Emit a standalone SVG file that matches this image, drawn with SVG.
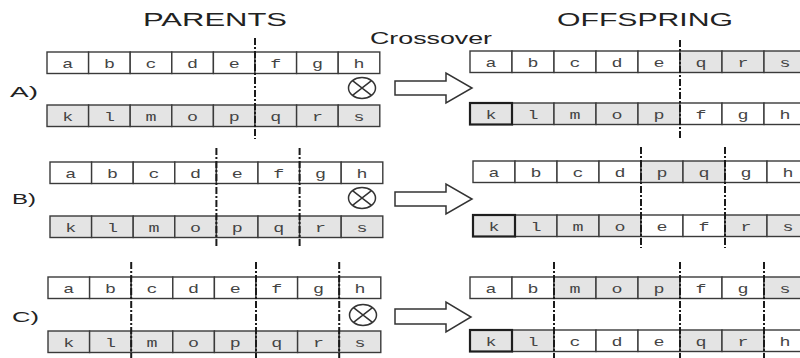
<svg xmlns="http://www.w3.org/2000/svg" width="800" height="358" viewBox="0 0 800 358">
  <style>
    .title { font-family: "Liberation Sans", Arial, sans-serif; fill: #222; }
    .lbl { font-family: "Liberation Sans", Arial, sans-serif; font-size: 15px; fill: #222; }
    .c { fill: #fff; stroke: #3a3a3a; stroke-width: 1.4; }
    .g { fill: #e4e4e4; }
    .k { stroke: #1e1e1e; stroke-width: 2.2; }
    .t { font-family: "Liberation Mono", "Courier New", monospace; font-size: 13px; fill: #444; text-anchor: middle; }
    .cut { stroke: #1a1a1a; stroke-width: 2; stroke-dasharray: 7 2 2 2; fill: none; }
    .arrow { fill: #fff; stroke: #333; stroke-width: 1.5; stroke-linejoin: miter; }
    .op { fill: #fff; stroke: #333; stroke-width: 1.5; }
  </style>
  <rect width="800" height="358" fill="#fff"/>

  <!-- headings -->
  <g id="headings">
    <text class="title" x="143" y="26" font-size="18" textLength="144" lengthAdjust="spacingAndGlyphs">PARENTS</text>
    <text class="title" x="557" y="26" font-size="18" textLength="176" lengthAdjust="spacingAndGlyphs">OFFSPRING</text>
    <text class="title" x="370" y="44" font-size="16" textLength="122" lengthAdjust="spacingAndGlyphs">Crossover</text>
  </g>

  <!-- case labels -->
  <g id="labels">
    <text class="lbl" x="10" y="97" textLength="28" lengthAdjust="spacingAndGlyphs">A)</text>
    <text class="lbl" x="12" y="204" textLength="24" lengthAdjust="spacingAndGlyphs">B)</text>
    <text class="lbl" x="12" y="322" textLength="27" lengthAdjust="spacingAndGlyphs">C)</text>
  </g>

  <!-- A: one-point crossover, parents -->
  <g id="parentsA">
    <g>
      <rect class="c" x="47" y="52" width="41.6" height="21.5"/><rect class="c" x="88.6" y="52" width="41.6" height="21.5"/>
      <rect class="c" x="130.2" y="52" width="41.6" height="21.5"/><rect class="c" x="171.8" y="52" width="41.6" height="21.5"/>
      <rect class="c" x="213.4" y="52" width="41.6" height="21.5"/><rect class="c" x="255" y="52" width="41.6" height="21.5"/>
      <rect class="c" x="296.6" y="52" width="41.6" height="21.5"/><rect class="c" x="338.2" y="52" width="41.6" height="21.5"/>
      <text class="t" x="67.8" y="67.5" textLength="11" lengthAdjust="spacingAndGlyphs">a</text>
      <text class="t" x="109.4" y="67.5" textLength="11" lengthAdjust="spacingAndGlyphs">b</text>
      <text class="t" x="151" y="67.5" textLength="11" lengthAdjust="spacingAndGlyphs">c</text>
      <text class="t" x="192.6" y="67.5" textLength="11" lengthAdjust="spacingAndGlyphs">d</text>
      <text class="t" x="234.2" y="67.5" textLength="11" lengthAdjust="spacingAndGlyphs">e</text>
      <text class="t" x="275.8" y="67.5" textLength="11" lengthAdjust="spacingAndGlyphs">f</text>
      <text class="t" x="317.4" y="67.5" textLength="11" lengthAdjust="spacingAndGlyphs">g</text>
      <text class="t" x="359" y="67.5" textLength="11" lengthAdjust="spacingAndGlyphs">h</text>
    </g>
    <g>
      <rect class="c g" x="47" y="105" width="41.6" height="21.5"/><rect class="c g" x="88.6" y="105" width="41.6" height="21.5"/>
      <rect class="c g" x="130.2" y="105" width="41.6" height="21.5"/><rect class="c g" x="171.8" y="105" width="41.6" height="21.5"/>
      <rect class="c g" x="213.4" y="105" width="41.6" height="21.5"/><rect class="c g" x="255" y="105" width="41.6" height="21.5"/>
      <rect class="c g" x="296.6" y="105" width="41.6" height="21.5"/><rect class="c g" x="338.2" y="105" width="41.6" height="21.5"/>
      <text class="t" x="67.8" y="120.5" textLength="11" lengthAdjust="spacingAndGlyphs">k</text>
      <text class="t" x="109.4" y="120.5" textLength="11" lengthAdjust="spacingAndGlyphs">l</text>
      <text class="t" x="151" y="120.5" textLength="11" lengthAdjust="spacingAndGlyphs">m</text>
      <text class="t" x="192.6" y="120.5" textLength="11" lengthAdjust="spacingAndGlyphs">o</text>
      <text class="t" x="234.2" y="120.5" textLength="11" lengthAdjust="spacingAndGlyphs">p</text>
      <text class="t" x="275.8" y="120.5" textLength="11" lengthAdjust="spacingAndGlyphs">q</text>
      <text class="t" x="317.4" y="120.5" textLength="11" lengthAdjust="spacingAndGlyphs">r</text>
      <text class="t" x="359" y="120.5" textLength="11" lengthAdjust="spacingAndGlyphs">s</text>
    </g>
    <line class="cut" x1="255" y1="38" x2="255" y2="139"/>
  </g>

  <!-- A: offspring -->
  <g id="offspringA">
    <g>
      <rect class="c" x="470" y="51" width="42" height="21.5"/><rect class="c" x="512" y="51" width="42" height="21.5"/>
      <rect class="c" x="554" y="51" width="42" height="21.5"/><rect class="c" x="596" y="51" width="42" height="21.5"/>
      <rect class="c" x="638" y="51" width="42" height="21.5"/><rect class="c g" x="680" y="51" width="42" height="21.5"/>
      <rect class="c g" x="722" y="51" width="42" height="21.5"/><rect class="c g" x="764" y="51" width="42" height="21.5"/>
      <text class="t" x="491" y="66.5" textLength="11" lengthAdjust="spacingAndGlyphs">a</text>
      <text class="t" x="533" y="66.5" textLength="11" lengthAdjust="spacingAndGlyphs">b</text>
      <text class="t" x="575" y="66.5" textLength="11" lengthAdjust="spacingAndGlyphs">c</text>
      <text class="t" x="617" y="66.5" textLength="11" lengthAdjust="spacingAndGlyphs">d</text>
      <text class="t" x="659" y="66.5" textLength="11" lengthAdjust="spacingAndGlyphs">e</text>
      <text class="t" x="701" y="66.5" textLength="11" lengthAdjust="spacingAndGlyphs">q</text>
      <text class="t" x="743" y="66.5" textLength="11" lengthAdjust="spacingAndGlyphs">r</text>
      <text class="t" x="785" y="66.5" textLength="11" lengthAdjust="spacingAndGlyphs">s</text>
    </g>
    <g>
      <rect class="c g" x="512" y="103" width="42" height="21.5"/>
      <rect class="c g" x="554" y="103" width="42" height="21.5"/><rect class="c g" x="596" y="103" width="42" height="21.5"/>
      <rect class="c g" x="638" y="103" width="42" height="21.5"/><rect class="c" x="680" y="103" width="42" height="21.5"/>
      <rect class="c" x="722" y="103" width="42" height="21.5"/><rect class="c" x="764" y="103" width="42" height="21.5"/>
      <rect class="c g k" x="470" y="103" width="42" height="21.5"/>
      <text class="t" x="491" y="118.5" textLength="11" lengthAdjust="spacingAndGlyphs">k</text>
      <text class="t" x="533" y="118.5" textLength="11" lengthAdjust="spacingAndGlyphs">l</text>
      <text class="t" x="575" y="118.5" textLength="11" lengthAdjust="spacingAndGlyphs">m</text>
      <text class="t" x="617" y="118.5" textLength="11" lengthAdjust="spacingAndGlyphs">o</text>
      <text class="t" x="659" y="118.5" textLength="11" lengthAdjust="spacingAndGlyphs">p</text>
      <text class="t" x="701" y="118.5" textLength="11" lengthAdjust="spacingAndGlyphs">f</text>
      <text class="t" x="743" y="118.5" textLength="11" lengthAdjust="spacingAndGlyphs">g</text>
      <text class="t" x="785" y="118.5" textLength="11" lengthAdjust="spacingAndGlyphs">h</text>
    </g>
    <line class="cut" x1="680" y1="40" x2="680" y2="139"/>
  </g>

  <!-- B: two-point crossover, parents -->
  <g id="parentsB">
    <g>
      <rect class="c" x="50" y="162" width="41.6" height="21.5"/><rect class="c" x="91.6" y="162" width="41.6" height="21.5"/>
      <rect class="c" x="133.2" y="162" width="41.6" height="21.5"/><rect class="c" x="174.8" y="162" width="41.6" height="21.5"/>
      <rect class="c" x="216.4" y="162" width="41.6" height="21.5"/><rect class="c" x="258" y="162" width="41.6" height="21.5"/>
      <rect class="c" x="299.6" y="162" width="41.6" height="21.5"/><rect class="c" x="341.2" y="162" width="41.6" height="21.5"/>
      <text class="t" x="70.8" y="177.5" textLength="11" lengthAdjust="spacingAndGlyphs">a</text>
      <text class="t" x="112.4" y="177.5" textLength="11" lengthAdjust="spacingAndGlyphs">b</text>
      <text class="t" x="154" y="177.5" textLength="11" lengthAdjust="spacingAndGlyphs">c</text>
      <text class="t" x="195.6" y="177.5" textLength="11" lengthAdjust="spacingAndGlyphs">d</text>
      <text class="t" x="237.2" y="177.5" textLength="11" lengthAdjust="spacingAndGlyphs">e</text>
      <text class="t" x="278.8" y="177.5" textLength="11" lengthAdjust="spacingAndGlyphs">f</text>
      <text class="t" x="320.4" y="177.5" textLength="11" lengthAdjust="spacingAndGlyphs">g</text>
      <text class="t" x="362" y="177.5" textLength="11" lengthAdjust="spacingAndGlyphs">h</text>
    </g>
    <g>
      <rect class="c g" x="50" y="216" width="41.6" height="21.5"/><rect class="c g" x="91.6" y="216" width="41.6" height="21.5"/>
      <rect class="c g" x="133.2" y="216" width="41.6" height="21.5"/><rect class="c g" x="174.8" y="216" width="41.6" height="21.5"/>
      <rect class="c g" x="216.4" y="216" width="41.6" height="21.5"/><rect class="c g" x="258" y="216" width="41.6" height="21.5"/>
      <rect class="c g" x="299.6" y="216" width="41.6" height="21.5"/><rect class="c g" x="341.2" y="216" width="41.6" height="21.5"/>
      <text class="t" x="70.8" y="231.5" textLength="11" lengthAdjust="spacingAndGlyphs">k</text>
      <text class="t" x="112.4" y="231.5" textLength="11" lengthAdjust="spacingAndGlyphs">l</text>
      <text class="t" x="154" y="231.5" textLength="11" lengthAdjust="spacingAndGlyphs">m</text>
      <text class="t" x="195.6" y="231.5" textLength="11" lengthAdjust="spacingAndGlyphs">o</text>
      <text class="t" x="237.2" y="231.5" textLength="11" lengthAdjust="spacingAndGlyphs">p</text>
      <text class="t" x="278.8" y="231.5" textLength="11" lengthAdjust="spacingAndGlyphs">q</text>
      <text class="t" x="320.4" y="231.5" textLength="11" lengthAdjust="spacingAndGlyphs">r</text>
      <text class="t" x="362" y="231.5" textLength="11" lengthAdjust="spacingAndGlyphs">s</text>
    </g>
    <line class="cut" x1="216.4" y1="148" x2="216.4" y2="248"/>
    <line class="cut" x1="299.6" y1="148" x2="299.6" y2="248"/>
  </g>

  <!-- B: offspring -->
  <g id="offspringB">
    <g>
      <rect class="c" x="473" y="161" width="42" height="21.5"/><rect class="c" x="515" y="161" width="42" height="21.5"/>
      <rect class="c" x="557" y="161" width="42" height="21.5"/><rect class="c" x="599" y="161" width="42" height="21.5"/>
      <rect class="c g" x="641" y="161" width="42" height="21.5"/><rect class="c g" x="683" y="161" width="42" height="21.5"/>
      <rect class="c" x="725" y="161" width="42" height="21.5"/><rect class="c" x="767" y="161" width="42" height="21.5"/>
      <text class="t" x="494" y="176.5" textLength="11" lengthAdjust="spacingAndGlyphs">a</text>
      <text class="t" x="536" y="176.5" textLength="11" lengthAdjust="spacingAndGlyphs">b</text>
      <text class="t" x="578" y="176.5" textLength="11" lengthAdjust="spacingAndGlyphs">c</text>
      <text class="t" x="620" y="176.5" textLength="11" lengthAdjust="spacingAndGlyphs">d</text>
      <text class="t" x="662" y="176.5" textLength="11" lengthAdjust="spacingAndGlyphs">p</text>
      <text class="t" x="704" y="176.5" textLength="11" lengthAdjust="spacingAndGlyphs">q</text>
      <text class="t" x="746" y="176.5" textLength="11" lengthAdjust="spacingAndGlyphs">g</text>
      <text class="t" x="788" y="176.5" textLength="11" lengthAdjust="spacingAndGlyphs">h</text>
    </g>
    <g>
      <rect class="c g" x="515" y="215" width="42" height="21.5"/>
      <rect class="c g" x="557" y="215" width="42" height="21.5"/><rect class="c g" x="599" y="215" width="42" height="21.5"/>
      <rect class="c" x="641" y="215" width="42" height="21.5"/><rect class="c" x="683" y="215" width="42" height="21.5"/>
      <rect class="c g" x="725" y="215" width="42" height="21.5"/><rect class="c g" x="767" y="215" width="42" height="21.5"/>
      <rect class="c g k" x="473" y="215" width="42" height="21.5"/>
      <text class="t" x="494" y="230.5" textLength="11" lengthAdjust="spacingAndGlyphs">k</text>
      <text class="t" x="536" y="230.5" textLength="11" lengthAdjust="spacingAndGlyphs">l</text>
      <text class="t" x="578" y="230.5" textLength="11" lengthAdjust="spacingAndGlyphs">m</text>
      <text class="t" x="620" y="230.5" textLength="11" lengthAdjust="spacingAndGlyphs">o</text>
      <text class="t" x="662" y="230.5" textLength="11" lengthAdjust="spacingAndGlyphs">e</text>
      <text class="t" x="704" y="230.5" textLength="11" lengthAdjust="spacingAndGlyphs">f</text>
      <text class="t" x="746" y="230.5" textLength="11" lengthAdjust="spacingAndGlyphs">r</text>
      <text class="t" x="788" y="230.5" textLength="11" lengthAdjust="spacingAndGlyphs">s</text>
    </g>
    <line class="cut" x1="641" y1="147" x2="641" y2="248"/>
    <line class="cut" x1="725" y1="147" x2="725" y2="248"/>
  </g>

  <!-- C: multi-point crossover, parents -->
  <g id="parentsC">
    <g>
      <rect class="c" x="48" y="277" width="41.6" height="21.5"/><rect class="c" x="89.6" y="277" width="41.6" height="21.5"/>
      <rect class="c" x="131.2" y="277" width="41.6" height="21.5"/><rect class="c" x="172.8" y="277" width="41.6" height="21.5"/>
      <rect class="c" x="214.4" y="277" width="41.6" height="21.5"/><rect class="c" x="256" y="277" width="41.6" height="21.5"/>
      <rect class="c" x="297.6" y="277" width="41.6" height="21.5"/><rect class="c" x="339.2" y="277" width="41.6" height="21.5"/>
      <text class="t" x="68.8" y="292.5" textLength="11" lengthAdjust="spacingAndGlyphs">a</text>
      <text class="t" x="110.4" y="292.5" textLength="11" lengthAdjust="spacingAndGlyphs">b</text>
      <text class="t" x="152" y="292.5" textLength="11" lengthAdjust="spacingAndGlyphs">c</text>
      <text class="t" x="193.6" y="292.5" textLength="11" lengthAdjust="spacingAndGlyphs">d</text>
      <text class="t" x="235.2" y="292.5" textLength="11" lengthAdjust="spacingAndGlyphs">e</text>
      <text class="t" x="276.8" y="292.5" textLength="11" lengthAdjust="spacingAndGlyphs">f</text>
      <text class="t" x="318.4" y="292.5" textLength="11" lengthAdjust="spacingAndGlyphs">g</text>
      <text class="t" x="360" y="292.5" textLength="11" lengthAdjust="spacingAndGlyphs">h</text>
    </g>
    <g>
      <rect class="c g" x="48" y="331" width="41.6" height="21.5"/><rect class="c g" x="89.6" y="331" width="41.6" height="21.5"/>
      <rect class="c g" x="131.2" y="331" width="41.6" height="21.5"/><rect class="c g" x="172.8" y="331" width="41.6" height="21.5"/>
      <rect class="c g" x="214.4" y="331" width="41.6" height="21.5"/><rect class="c g" x="256" y="331" width="41.6" height="21.5"/>
      <rect class="c g" x="297.6" y="331" width="41.6" height="21.5"/><rect class="c g" x="339.2" y="331" width="41.6" height="21.5"/>
      <text class="t" x="68.8" y="346.5" textLength="11" lengthAdjust="spacingAndGlyphs">k</text>
      <text class="t" x="110.4" y="346.5" textLength="11" lengthAdjust="spacingAndGlyphs">l</text>
      <text class="t" x="152" y="346.5" textLength="11" lengthAdjust="spacingAndGlyphs">m</text>
      <text class="t" x="193.6" y="346.5" textLength="11" lengthAdjust="spacingAndGlyphs">o</text>
      <text class="t" x="235.2" y="346.5" textLength="11" lengthAdjust="spacingAndGlyphs">p</text>
      <text class="t" x="276.8" y="346.5" textLength="11" lengthAdjust="spacingAndGlyphs">q</text>
      <text class="t" x="318.4" y="346.5" textLength="11" lengthAdjust="spacingAndGlyphs">r</text>
      <text class="t" x="360" y="346.5" textLength="11" lengthAdjust="spacingAndGlyphs">s</text>
    </g>
    <line class="cut" x1="131.2" y1="262" x2="131.2" y2="358"/>
    <line class="cut" x1="256" y1="262" x2="256" y2="358"/>
    <line class="cut" x1="339.2" y1="262" x2="339.2" y2="358"/>
  </g>

  <!-- C: offspring -->
  <g id="offspringC">
    <g>
      <rect class="c" x="470" y="277" width="42" height="21.5"/><rect class="c" x="512" y="277" width="42" height="21.5"/>
      <rect class="c g" x="554" y="277" width="42" height="21.5"/><rect class="c g" x="596" y="277" width="42" height="21.5"/>
      <rect class="c g" x="638" y="277" width="42" height="21.5"/><rect class="c" x="680" y="277" width="42" height="21.5"/>
      <rect class="c" x="722" y="277" width="42" height="21.5"/><rect class="c g" x="764" y="277" width="42" height="21.5"/>
      <text class="t" x="491" y="292.5" textLength="11" lengthAdjust="spacingAndGlyphs">a</text>
      <text class="t" x="533" y="292.5" textLength="11" lengthAdjust="spacingAndGlyphs">b</text>
      <text class="t" x="575" y="292.5" textLength="11" lengthAdjust="spacingAndGlyphs">m</text>
      <text class="t" x="617" y="292.5" textLength="11" lengthAdjust="spacingAndGlyphs">o</text>
      <text class="t" x="659" y="292.5" textLength="11" lengthAdjust="spacingAndGlyphs">p</text>
      <text class="t" x="701" y="292.5" textLength="11" lengthAdjust="spacingAndGlyphs">f</text>
      <text class="t" x="743" y="292.5" textLength="11" lengthAdjust="spacingAndGlyphs">g</text>
      <text class="t" x="785" y="292.5" textLength="11" lengthAdjust="spacingAndGlyphs">s</text>
    </g>
    <g>
      <rect class="c g" x="512" y="330" width="42" height="21.5"/>
      <rect class="c" x="554" y="330" width="42" height="21.5"/><rect class="c" x="596" y="330" width="42" height="21.5"/>
      <rect class="c" x="638" y="330" width="42" height="21.5"/><rect class="c g" x="680" y="330" width="42" height="21.5"/>
      <rect class="c g" x="722" y="330" width="42" height="21.5"/><rect class="c" x="764" y="330" width="42" height="21.5"/>
      <rect class="c g k" x="470" y="330" width="42" height="21.5"/>
      <text class="t" x="491" y="345.5" textLength="11" lengthAdjust="spacingAndGlyphs">k</text>
      <text class="t" x="533" y="345.5" textLength="11" lengthAdjust="spacingAndGlyphs">l</text>
      <text class="t" x="575" y="345.5" textLength="11" lengthAdjust="spacingAndGlyphs">c</text>
      <text class="t" x="617" y="345.5" textLength="11" lengthAdjust="spacingAndGlyphs">d</text>
      <text class="t" x="659" y="345.5" textLength="11" lengthAdjust="spacingAndGlyphs">e</text>
      <text class="t" x="701" y="345.5" textLength="11" lengthAdjust="spacingAndGlyphs">q</text>
      <text class="t" x="743" y="345.5" textLength="11" lengthAdjust="spacingAndGlyphs">r</text>
      <text class="t" x="785" y="345.5" textLength="11" lengthAdjust="spacingAndGlyphs">h</text>
    </g>
    <line class="cut" x1="554" y1="262" x2="554" y2="358"/>
    <line class="cut" x1="680" y1="262" x2="680" y2="358"/>
    <line class="cut" x1="764" y1="262" x2="764" y2="358"/>
  </g>

  <!-- crossover operator symbols and block arrows -->
  <g id="connectors">
    <g>
      <ellipse class="op" cx="362" cy="88" rx="13.5" ry="10.5"/>
      <path class="op" d="M352.5,80.6 L371.5,95.4 M371.5,80.6 L352.5,95.4"/>
      <path class="arrow" d="M395,81 H446 V73 L472,88 L446,103 V95 H395 Z"/>
    </g>
    <g>
      <ellipse class="op" cx="362" cy="198" rx="13.5" ry="10.5"/>
      <path class="op" d="M352.5,190.6 L371.5,205.4 M371.5,190.6 L352.5,205.4"/>
      <path class="arrow" d="M395,192 H446 V184 L472,199 L446,214 V206 H395 Z"/>
    </g>
    <g>
      <ellipse class="op" cx="363" cy="315" rx="13.5" ry="10.5"/>
      <path class="op" d="M353.5,307.6 L372.5,322.4 M372.5,307.6 L353.5,322.4"/>
      <path class="arrow" d="M395,309 H446 V302 L471,317 L446,332 V324 H395 Z"/>
    </g>
  </g>
</svg>
